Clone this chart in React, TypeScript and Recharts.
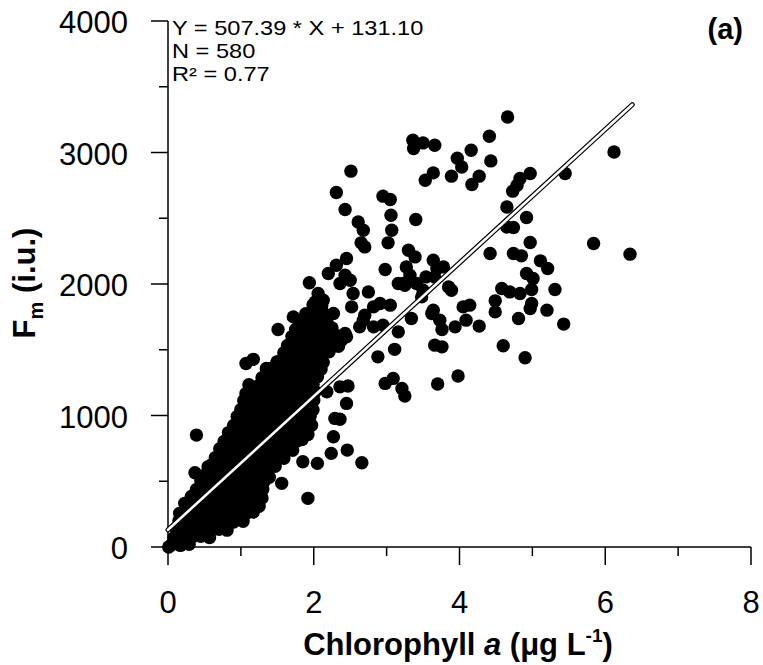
import React from "react";
import { ScatterChart, Scatter, XAxis, YAxis } from "recharts";

const FONT = "'Liberation Sans', Arial, Helvetica, sans-serif";

// dense cloud of samples near the origin (chlorophyll a, Fm)
const densePoints: Array<[number, number]> = [
  [0.01, 0], [0.05, 18], [0.17, 12], [0.29, 20],
  [0.08, 70], [0.2, 80], [0.33, 74], [0.45, 82], [0.57, 72],
  [0.11, 140], [0.23, 132], [0.35, 138], [0.47, 130], [0.59, 142], [0.7, 134], [0.81, 128],
  [0.15, 200], [0.28, 194], [0.4, 205], [0.53, 192], [0.65, 198], [0.78, 204], [0.9, 190], [1.03, 196],
  [0.21, 255], [0.33, 262], [0.46, 250], [0.58, 260], [0.71, 256], [0.83, 264], [0.96, 252], [1.08, 258], [1.17, 266],
  [0.26, 322], [0.39, 314], [0.51, 320], [0.64, 326], [0.76, 312], [0.89, 318], [1.01, 324], [1.14, 316], [1.25, 310],
  [0.32, 384], [0.44, 376], [0.57, 380], [0.69, 388], [0.82, 374], [0.94, 382], [1.07, 378], [1.19, 386], [1.29, 372],
  [0.39, 438], [0.52, 446], [0.65, 436], [0.78, 442], [0.91, 450], [1.04, 434], [1.17, 444], [1.3, 440],
  [0.45, 505], [0.57, 498], [0.7, 508], [0.82, 496], [0.95, 502], [1.07, 510], [1.2, 494], [1.32, 500],
  [0.53, 560], [0.65, 568], [0.78, 556], [0.9, 564], [1.03, 570], [1.15, 558], [1.28, 566], [1.36, 552],
  [0.6, 626], [0.72, 618], [0.85, 628], [0.97, 620], [1.1, 616], [1.22, 630], [1.35, 622], [1.47, 614],
  [0.65, 680], [0.78, 690], [0.9, 676], [1.03, 686], [1.15, 682], [1.28, 692], [1.4, 678], [1.52, 688], [1.59, 674],
  [0.71, 748], [0.84, 740], [0.96, 752], [1.09, 744], [1.21, 738], [1.34, 750], [1.46, 742], [1.59, 756], [1.71, 736],
  [0.77, 802], [0.9, 812], [1.02, 798], [1.15, 808], [1.27, 814], [1.4, 800], [1.52, 810], [1.65, 796], [1.77, 806], [1.84, 818],
  [0.83, 870], [0.96, 860], [1.08, 872], [1.21, 864], [1.33, 858], [1.46, 868], [1.58, 876], [1.71, 862], [1.83, 866], [1.92, 856],
  [0.9, 924], [1.03, 932], [1.15, 920], [1.28, 930], [1.4, 936], [1.53, 922], [1.65, 928], [1.78, 918], [1.9, 934], [1.97, 926],
  [0.95, 992], [1.07, 984], [1.2, 996], [1.32, 980], [1.45, 990], [1.57, 998], [1.7, 986], [1.82, 978], [1.95, 994],
  [1.0, 1046], [1.12, 1054], [1.25, 1042], [1.37, 1056], [1.5, 1048], [1.62, 1040], [1.75, 1052], [1.87, 1060], [1.99, 1044],
  [1.04, 1114], [1.17, 1106], [1.29, 1118], [1.42, 1104], [1.54, 1112], [1.67, 1120], [1.79, 1108], [1.92, 1100], [2.0, 1116],
  [1.07, 1168], [1.19, 1176], [1.32, 1164], [1.44, 1178], [1.57, 1172], [1.69, 1160], [1.82, 1174], [1.94, 1166], [2.02, 1180],
  [1.11, 1234], [1.24, 1226], [1.36, 1238], [1.49, 1224], [1.61, 1232], [1.74, 1240], [1.86, 1228], [1.99, 1236],
  [1.29, 1288], [1.42, 1296], [1.54, 1284], [1.67, 1298], [1.79, 1290], [1.92, 1282], [2.05, 1294],
  [1.39, 1356], [1.52, 1348], [1.64, 1360], [1.77, 1350], [1.89, 1344], [2.02, 1358], [2.1, 1352],
  [1.5, 1410], [1.63, 1418], [1.75, 1406], [1.88, 1420], [2.0, 1412], [2.13, 1404],
  [1.59, 1478], [1.71, 1470], [1.84, 1482], [1.96, 1466], [2.09, 1476], [2.21, 1484],
  [1.64, 1532], [1.77, 1540], [1.89, 1528], [2.02, 1538], [2.14, 1544], [2.27, 1530], [2.34, 1526],
  [1.7, 1600], [1.82, 1592], [1.95, 1604], [2.07, 1588], [2.2, 1598], [2.32, 1606],
  [1.75, 1654], [1.88, 1662], [2.0, 1650], [2.13, 1660], [2.25, 1666],
  [1.81, 1722], [1.93, 1714], [2.06, 1726], [2.18, 1712],
  [1.89, 1774], [2.02, 1782], [2.15, 1770],
  [1.99, 1842], [2.11, 1834],
];

// scattered samples at higher chlorophyll
const spreadPoints: Array<[number, number]> = [
  [4.66, 3270], [4.41, 3124], [4.16, 3017], [3.97, 2956], [4.03, 2890], [3.89, 2820], [4.43, 2936],
  [4.27, 2820], [4.17, 2757], [4.97, 2840], [4.83, 2802], [4.79, 2751], [4.73, 2706], [5.45, 2840],
  [6.12, 3004], [4.65, 2586], [4.92, 2506], [4.65, 2434], [4.74, 2430], [4.97, 2316], [5.84, 2308],
  [6.34, 2227], [4.42, 2232], [4.74, 2232], [4.85, 2214], [5.11, 2176], [5.21, 2118], [4.92, 2080],
  [5.01, 2042], [4.99, 1958], [5.31, 1958], [4.58, 1966], [4.49, 1872], [4.69, 1940], [4.83, 1928],
  [3.89, 1953], [4.14, 1839], [4.05, 1826], [4.99, 1852], [5.2, 1801], [3.36, 3093], [3.5, 3073],
  [3.66, 3055], [3.37, 3030], [3.64, 2845], [3.53, 2789], [3.4, 2491], [3.3, 2257], [3.39, 2206],
  [3.27, 2130], [3.32, 2067], [3.23, 2004], [3.41, 2004], [3.48, 1902], [3.64, 2181], [3.69, 2118],
  [3.78, 2130], [3.54, 2054], [3.66, 2054], [3.85, 1978], [4.97, 1814], [4.49, 1788], [5.43, 1695],
  [4.81, 1738], [3.62, 1776], [3.73, 1725], [3.76, 1654], [4.09, 1725], [3.94, 1674], [4.27, 1680],
  [3.34, 1738], [4.6, 1530], [3.66, 1535], [3.76, 1522], [4.9, 1439], [3.98, 1300],
  [2.51, 2858], [2.31, 2696], [2.43, 2567], [2.95, 2668], [3.05, 2643], [3.06, 2523], [3.07, 2409],
  [3.02, 2313], [2.61, 2472], [2.68, 2409], [2.65, 2313], [2.7, 2282], [2.98, 2110], [2.45, 2194],
  [2.31, 2143], [2.2, 2080], [2.43, 2067], [2.5, 2029], [2.36, 2004], [1.94, 2009], [3.16, 2004],
  [3.25, 1991], [3.5, 1953], [2.75, 1940], [2.06, 1928], [2.13, 1877], [2.02, 1864], [2.54, 1928],
  [2.52, 1826], [2.91, 1852], [3.05, 1839], [2.82, 1826], [3.64, 1801],
  [2.7, 1763], [2.82, 1674], [2.63, 1674], [2.95, 1687], [2.68, 1725], [2.43, 1624], [2.38, 1573],
  [3.16, 1636], [3.11, 1503], [2.88, 1446], [2.47, 1224], [2.36, 1218], [2.98, 1244], [3.09, 1282],
  [3.21, 1206], [3.25, 1148], [3.7, 1239], [2.45, 1092], [2.36, 971], [2.46, 737], [2.66, 641],
  [1.72, 1750], [1.51, 1654], [1.79, 1604], [2.27, 1776], [2.45, 1598], [2.34, 1586], [1.07, 1396],
  [1.17, 1427], [1.35, 1358], [1.49, 1396], [1.63, 1421], [2.18, 1180], [2.29, 978], [0.39, 851],
  [0.37, 565], [0.55, 610], [1.85, 648], [2.05, 636], [2.27, 838], [2.24, 712], [1.39, 530],
  [1.56, 484], [1.92, 370], [0.23, 332], [0.16, 256],
];

// regression from the figure: Y = 507.39 * X + 131.10
const fitSlope = 507.39;
const fitIntercept = 131.1;
const fitRangeX = [0, 6.37];

const xTicks = [0, 1, 2, 3, 4, 5, 6, 7, 8];
const xLabelled = [0, 2, 4, 6, 8];
const yTicks = [0, 500, 1000, 1500, 2000, 2500, 3000, 3500, 4000];
const yLabelled = [0, 1000, 2000, 3000, 4000];

const statsLines = ["Y = 507.39 * X + 131.10", "N = 580", "R² = 0.77"];

const points = [...densePoints, ...spreadPoints].map(([x, y]) => ({ x, y }));
const fitLine = fitRangeX.map((x) => ({ x, y: fitSlope * x + fitIntercept }));

const XTick = ({ x, y, payload }: any) => {
  const major = xLabelled.includes(payload.value);
  return (
    <g>
      <line x1={x} y1={y} x2={x} y2={y + (major ? 18 : 9)} stroke="#000" strokeWidth={1.5} />
      {major && (
        <text x={x} y={y + 66} textAnchor="middle" fontSize={31} fontFamily={FONT} fill="#000">
          {payload.value}
        </text>
      )}
    </g>
  );
};

const YTick = ({ x, y, payload }: any) => {
  const major = yLabelled.includes(payload.value);
  return (
    <g>
      <line x1={x - (major ? 17 : 9)} y1={y} x2={x} y2={y} stroke="#000" strokeWidth={1.5} />
      {major && (
        <text x={x - 40} y={y + 12} textAnchor="end" fontSize={31} fontFamily={FONT} fill="#000">
          {payload.value}
        </text>
      )}
    </g>
  );
};

const XTitle = () => (
  <text x={458} y={655} textAnchor="middle" fontSize={31} fontWeight="bold" fontFamily={FONT} fill="#000">
    Chlorophyll <tspan fontStyle="italic">a</tspan> (μg L
    <tspan fontSize={19} dy={-13}>-1</tspan>
    <tspan dy={13}>)</tspan>
  </text>
);

const YTitle = () => (
  <text
    x={35}
    y={283}
    transform="rotate(-90, 35, 283)"
    textAnchor="middle"
    fontSize={31}
    fontWeight="bold"
    fontFamily={FONT}
    fill="#000"
  >
    F<tspan fontSize={20} dy={8}>m</tspan>
    <tspan dy={-8}> (i.u.)</tspan>
  </text>
);

const Dot = (props: any) => <circle cx={props.cx} cy={props.cy} r={6.7} fill="#000" />;

export default function App() {
  return (
    <div style={{ position: "relative", width: 763, height: 665 }}>
      <style>{"html, body { margin: 0; overflow: hidden; }"}</style>
      <ScatterChart width={763} height={665} margin={{ top: 21, right: 12, bottom: 0, left: 0 }}>
        <XAxis
          type="number"
          dataKey="x"
          domain={[0, 8]}
          ticks={xTicks}
          interval={0}
          tickSize={0}
          tickMargin={0}
          tickLine={false}
          axisLine={{ stroke: "#000", strokeWidth: 1.5 }}
          tick={XTick}
          height={118}
          label={XTitle}
        />
        <YAxis
          type="number"
          dataKey="y"
          domain={[0, 4000]}
          ticks={yTicks}
          interval={0}
          tickSize={0}
          tickMargin={0}
          tickLine={false}
          axisLine={{ stroke: "#000", strokeWidth: 1.5 }}
          tick={YTick}
          width={168}
          label={YTitle}
        />
        <Scatter data={points} fill="#000" shape={Dot} isAnimationActive={false} />
        <Scatter
          data={fitLine}
          line={{ stroke: "#000", strokeWidth: 5, strokeLinecap: "round" }}
          shape={() => <g />}
          isAnimationActive={false}
        />
        <Scatter
          data={fitLine}
          line={{ stroke: "#fff", strokeWidth: 2.6, strokeLinecap: "round" }}
          shape={() => <g />}
          isAnimationActive={false}
        />
      </ScatterChart>
      <svg
        width={763}
        height={665}
        style={{ position: "absolute", left: 0, top: 0, pointerEvents: "none" }}
      >
        {/* the printed stats block is a little wide for its height */}
        <g transform="translate(172, 0) scale(1.18, 1)" fontFamily={FONT} fill="#000" fontSize={20}>
          {statsLines.map((line, i) => (
            <text key={line} x={0} y={35 + i * 23}>
              {line}
            </text>
          ))}
        </g>
        <text x={743} y={39} textAnchor="end" fontSize={29} fontWeight="bold" fontFamily={FONT} fill="#000">
          (a)
        </text>
      </svg>
    </div>
  );
}
